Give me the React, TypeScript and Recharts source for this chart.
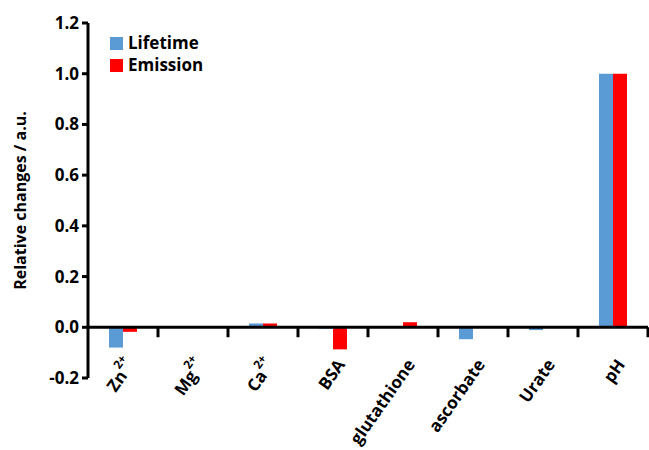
import React from 'react';
import { BarChart, Bar, XAxis, YAxis, ReferenceLine, Legend } from 'recharts';

const categories = ['Zn^2+', 'Mg^2+', 'Ca^2+', 'BSA', 'glutathione', 'ascorbate', 'Urate', 'pH'];
const lifetime = [-0.08, 0, 0.015, -0.005, 0, -0.047, -0.011, 1.0];
const emission = [-0.018, 0, 0.015, -0.087, 0.02, 0, 0, 1.0];
const yTicks = [-0.2, 0, 0.2, 0.4, 0.6, 0.8, 1.0, 1.2];

const data = categories.map((name, i) => ({ name, Lifetime: lifetime[i], Emission: emission[i] }));

const W = 649;
const H = 450;
const X_AXIS_H = 72;
const M = { top: 23, right: 1, bottom: 0, left: 0 };
const Y_AXIS_W = 88;
const Y_MIN = -0.2;
const Y_MAX = 1.2;
const plotH = H - M.top - M.bottom - X_AXIS_H;
const zeroY = M.top + (plotH * (Y_MAX - 0)) / (Y_MAX - Y_MIN);
const TICK_LEN = 10;

const FONT = '"Open Sans", sans-serif';
const BLUE = '#5B9BD5';
const RED = '#FF0000';

const XTick = (props: any) => {
  const { payload } = props;
  const x = Number(props.x);
  const [base, sup] = String(payload.value).split('^');
  const ax = x + 1;
  const ay = zeroY + 29;
  return (
    <text
      x={ax}
      y={ay}
      transform={`rotate(-55 ${ax} ${ay})`}
      textAnchor="end"
      dominantBaseline="hanging"
      fontFamily={FONT}
      fontWeight={700}
      fontSize={17}
      fill="#000"
    >
      {base}
      {sup ? (
        <tspan fontSize={12} dy={-6}>
          {sup}
        </tspan>
      ) : null}
    </text>
  );
};

const BoundaryTick = (props: any) => {
  const x = Number(props.x1);
  const y1 = Number(props.y1);
  const y2 = Number(props.y2);
  const top = Math.min(y1, y2);
  const bottom = Math.max(y1, y2);
  const zy = top + ((bottom - top) * (Y_MAX - 0)) / (Y_MAX - Y_MIN);
  const len = bottom - top;
  return (
    <line
      x1={x}
      x2={x}
      y1={top}
      y2={bottom}
      stroke="#000"
      strokeWidth={3}
      strokeDasharray={`0 ${zy - top} ${TICK_LEN} ${len}`}
    />
  );
};

const LegendContent = () => (
  <div style={{ fontFamily: FONT, fontWeight: 700, fontSize: 17, color: '#000', lineHeight: '22px' }}>
    {[
      { label: 'Lifetime', color: BLUE },
      { label: 'Emission', color: RED },
    ].map((it) => (
      <div key={it.label} style={{ display: 'flex', alignItems: 'center' }}>
        <span style={{ display: 'inline-block', width: 13, height: 13, background: it.color, marginRight: 5 }} />
        <span>{it.label}</span>
      </div>
    ))}
  </div>
);

export default function App() {
  return (
    <div style={{ position: 'absolute', left: 0, top: 0, background: '#fff' }}>
      <BarChart width={W} height={H} data={data} margin={M} barCategoryGap="30%" barGap={0}>
        <XAxis
          dataKey="name"
          axisLine={false}
          tickLine={false}
          interval={0}
          height={X_AXIS_H}
          tick={<XTick />}
        />
        <YAxis
          width={Y_AXIS_W}
          domain={[Y_MIN, Y_MAX]}
          ticks={yTicks}
          allowDataOverflow
          axisLine={{ stroke: '#000', strokeWidth: 3 }}
          tickLine={{ stroke: '#000', strokeWidth: 3 }}
          tickSize={6}
          tickMargin={3}
          tickFormatter={(v: number) => v.toFixed(1)}
          tick={{ fill: '#000', fontFamily: FONT, fontWeight: 700, fontSize: 17 }}
          label={{
            content: (p: any) => {
              const vb = p.viewBox || {};
              const cx = 20;
              const cy = (vb.y || M.top) + (vb.height || plotH) / 2;
              return (
                <text
                  x={cx}
                  y={cy}
                  transform={`rotate(-90 ${cx} ${cy})`}
                  textAnchor="middle"
                  dominantBaseline="central"
                  fontFamily={FONT}
                  fontWeight={700}
                  fontSize={16}
                  fill="#000"
                >
                  Relative changes / a.u.
                </text>
              );
            },
          }}
        />
        <ReferenceLine y={0} stroke="#000" strokeWidth={3} />
        {categories.map((c) => (
          <ReferenceLine key={c} x={c} position="end" stroke="#000" shape={<BoundaryTick />} />
        ))}
        <Legend
          layout="horizontal"
          verticalAlign="middle"
          align="center"
          content={<LegendContent />}
          wrapperStyle={{ position: 'absolute', left: 110, top: 32, width: 'auto' }}
        />
        <Bar dataKey="Lifetime" fill={BLUE} isAnimationActive={false} />
        <Bar dataKey="Emission" fill={RED} isAnimationActive={false} />
      </BarChart>
    </div>
  );
}
